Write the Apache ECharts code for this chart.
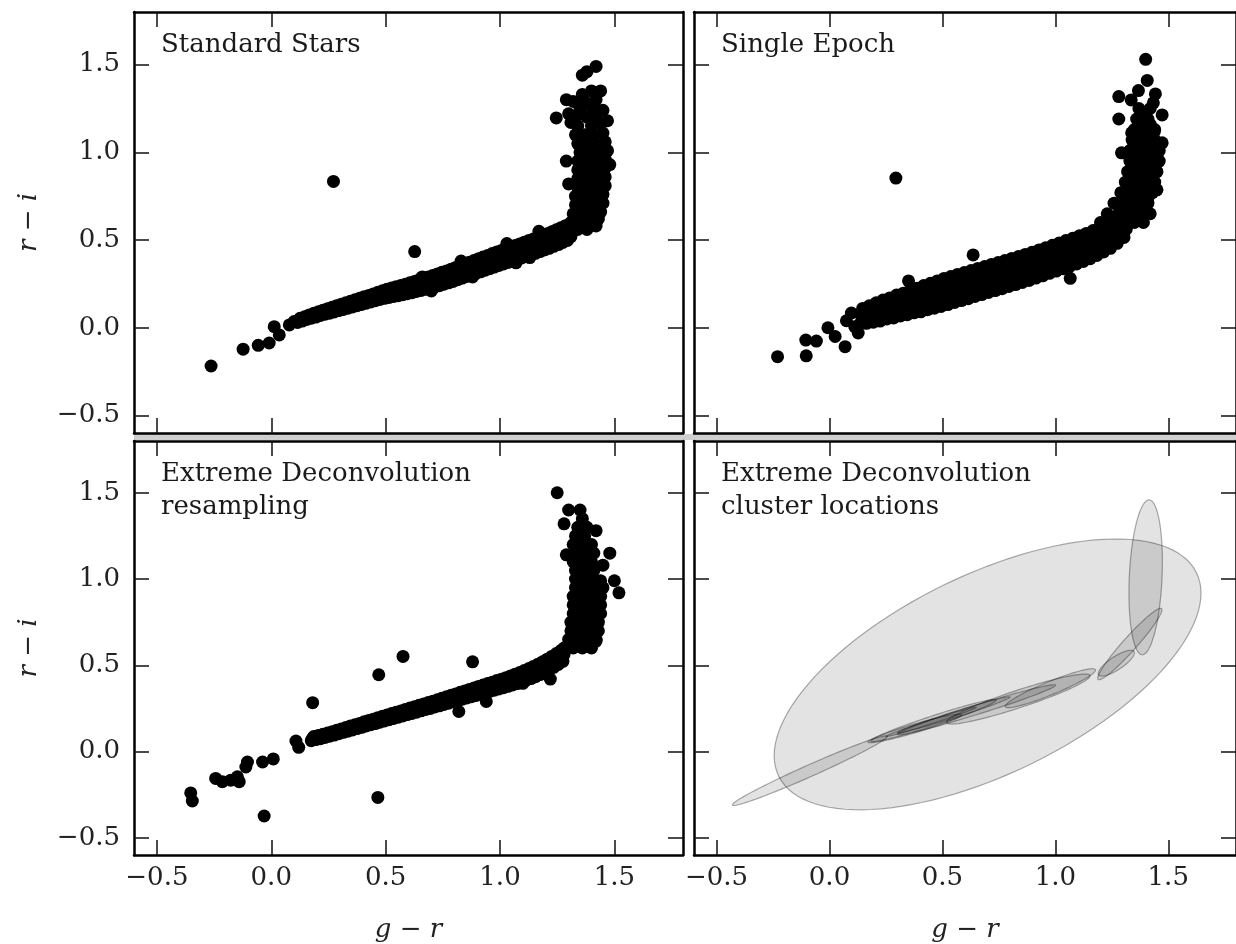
<!DOCTYPE html>
<html>
<head>
<meta charset="utf-8">
<script src="https://cdn.jsdelivr.net/npm/echarts@6/dist/echarts.min.js"></script>
<style>html,body{margin:0;padding:0;background:#fff}#chart{width:1236px;height:944px}</style>
</head>
<body>
<div id="chart"></div>
<script>
// ---------- data ----------
const tickValues = [-0.5, 0.0, 0.5, 1.0, 1.5];
const axisRange = [-0.6, 1.8];
const panelTitles = ['Standard Stars', 'Single Epoch', 'Extreme Deconvolution\nresampling', 'Extreme Deconvolution\ncluster locations'];
const xName = 'g − r';
const yName = 'r − i';

// panel 1: standard stars (g-r, r-i)
const standardStars = [
[-0.263,-0.218],[-0.123,-0.122],[-0.057,-0.100],[-0.009,-0.087],[0.013,0.006],[0.035,-0.041],[0.079,0.016],[0.100,0.035],[0.272,0.834],[0.627,0.434],[1.246,1.196],
[0.115,0.030],[0.120,0.042],[0.126,0.054],[0.135,0.038],[0.140,0.050],[0.146,0.062],[0.155,0.047],[0.160,0.060],[0.166,0.073],[0.175,0.054],[0.180,0.068],[0.186,0.082],
[0.195,0.061],[0.200,0.076],[0.206,0.091],[0.215,0.070],[0.220,0.085],[0.226,0.100],[0.235,0.077],[0.240,0.093],[0.246,0.109],[0.255,0.083],[0.260,0.100],[0.266,0.117],
[0.275,0.090],[0.280,0.108],[0.286,0.126],[0.295,0.098],[0.300,0.116],[0.306,0.134],[0.315,0.104],[0.320,0.123],[0.326,0.142],[0.335,0.111],[0.340,0.131],[0.346,0.151],
[0.355,0.119],[0.360,0.139],[0.366,0.159],[0.375,0.126],[0.380,0.147],[0.386,0.168],[0.395,0.133],[0.400,0.155],[0.406,0.177],[0.415,0.140],[0.420,0.162],[0.426,0.184],
[0.435,0.147],[0.440,0.170],[0.446,0.193],[0.455,0.154],[0.460,0.178],[0.466,0.202],[0.475,0.161],[0.480,0.186],[0.486,0.211],[0.495,0.168],[0.500,0.194],[0.506,0.220],
[0.515,0.173],[0.520,0.200],[0.526,0.227],[0.535,0.178],[0.540,0.206],[0.546,0.234],[0.555,0.183],[0.560,0.212],[0.566,0.241],[0.575,0.188],[0.580,0.218],[0.586,0.248],
[0.595,0.194],[0.600,0.225],[0.606,0.256],[0.615,0.200],[0.620,0.232],[0.626,0.264],[0.635,0.207],[0.640,0.240],[0.646,0.273],[0.655,0.213],[0.660,0.247],[0.666,0.281],
[0.675,0.219],[0.680,0.254],[0.686,0.289],[0.695,0.226],[0.700,0.262],[0.706,0.298],[0.715,0.233],[0.720,0.270],[0.726,0.307],[0.735,0.240],[0.740,0.278],[0.746,0.316],
[0.755,0.248],[0.760,0.286],[0.766,0.324],[0.775,0.256],[0.780,0.295],[0.786,0.334],[0.795,0.264],[0.800,0.304],[0.806,0.344],[0.815,0.274],[0.820,0.314],[0.826,0.354],
[0.835,0.283],[0.840,0.323],[0.846,0.363],[0.855,0.292],[0.860,0.333],[0.866,0.374],[0.875,0.301],[0.880,0.342],[0.886,0.383],[0.895,0.310],[0.900,0.352],[0.906,0.394],
[0.915,0.319],[0.920,0.361],[0.926,0.403],[0.935,0.328],[0.940,0.370],[0.946,0.412],[0.955,0.337],[0.960,0.380],[0.966,0.423],[0.975,0.346],[0.980,0.389],[0.986,0.432],
[0.995,0.355],[1.000,0.398],[1.006,0.441],[1.015,0.364],[1.020,0.407],[1.026,0.450],[1.035,0.372],[1.040,0.416],[1.046,0.460],[1.055,0.381],[1.060,0.425],[1.066,0.469],
[1.075,0.390],[1.080,0.434],[1.086,0.478],[1.095,0.398],[1.100,0.443],[1.106,0.488],[1.115,0.407],[1.120,0.452],[1.126,0.497],[1.135,0.416],[1.140,0.461],[1.146,0.506],
[1.155,0.424],[1.160,0.470],[1.166,0.516],[1.175,0.434],[1.180,0.480],[1.186,0.526],[1.195,0.444],[1.200,0.490],[1.206,0.536],[1.215,0.453],[1.220,0.500],[1.226,0.547],
[1.235,0.464],[1.240,0.511],[1.246,0.558],[1.255,0.474],[1.260,0.522],[1.266,0.570],[1.275,0.486],[1.280,0.534],[1.286,0.582],[1.295,0.498],[1.300,0.546],[1.306,0.594],
[0.66,0.29],[0.70,0.21],[0.83,0.38],[0.88,0.29],[1.03,0.48],[1.07,0.37],[1.17,0.55],[1.13,0.40],
[1.30,0.56],[1.34,0.56],[1.38,0.56],[1.42,0.58],[1.31,0.60],[1.35,0.60],[1.39,0.60],[1.43,0.62],[1.32,0.65],[1.36,0.65],[1.40,0.65],[1.44,0.66],
[1.33,0.70],[1.37,0.70],[1.41,0.70],[1.45,0.71],[1.33,0.75],[1.37,0.75],[1.41,0.75],[1.45,0.76],[1.34,0.80],[1.38,0.80],[1.42,0.80],[1.46,0.81],
[1.34,0.85],[1.38,0.85],[1.42,0.85],[1.46,0.86],[1.34,0.90],[1.38,0.90],[1.42,0.90],[1.46,0.91],[1.34,0.95],[1.38,0.95],[1.42,0.95],[1.46,0.96],
[1.35,1.00],[1.39,1.00],[1.43,1.00],[1.47,1.01],[1.34,1.05],[1.38,1.05],[1.42,1.05],[1.46,1.06],[1.33,1.10],[1.37,1.10],[1.41,1.10],[1.45,1.11],
[1.34,1.15],[1.40,1.15],[1.44,1.16],[1.33,1.20],[1.38,1.20],[1.42,1.21],[1.35,1.25],[1.41,1.25],[1.32,1.29],[1.37,1.29],[1.42,1.30],
[1.40,1.35],[1.36,1.44],[1.38,1.46],[1.42,1.49],[1.29,1.30],[1.31,0.52],
[1.30,1.22],[1.45,1.24],[1.39,1.27],[1.47,1.18],[1.36,1.33],[1.44,1.35],[1.31,1.17],[1.29,0.95],[1.48,0.93],[1.30,0.82]
];

// panel 2: single epoch
const singleEpoch = [
[-0.23,-0.165],[-0.103,-0.16],[-0.105,-0.07],[-0.058,-0.076],[-0.007,0.0],[0.025,-0.05],[0.069,-0.108],[0.075,0.04],[0.097,0.084],[0.127,-0.03],[0.112,0.006],[0.294,0.853],[0.636,0.415],[1.066,0.282],[0.35,0.267],
[0.134,0.020],[0.144,0.050],[0.138,0.080],[0.147,0.110],[0.164,0.025],[0.174,0.058],[0.168,0.092],[0.177,0.125],
[0.194,0.032],[0.204,0.069],[0.198,0.105],[0.207,0.142],[0.224,0.038],[0.234,0.078],[0.228,0.118],[0.237,0.158],
[0.254,0.050],[0.264,0.090],[0.258,0.130],[0.267,0.170],[0.284,0.056],[0.294,0.099],[0.288,0.143],[0.297,0.186],
[0.314,0.067],[0.324,0.110],[0.318,0.154],[0.327,0.197],[0.344,0.074],[0.354,0.121],[0.348,0.167],[0.357,0.214],
[0.374,0.085],[0.384,0.132],[0.378,0.178],[0.387,0.225],[0.404,0.091],[0.414,0.141],[0.408,0.191],[0.417,0.241],
[0.434,0.103],[0.444,0.153],[0.438,0.203],[0.447,0.253],[0.464,0.111],[0.474,0.163],[0.468,0.215],[0.477,0.267],
[0.494,0.121],[0.504,0.174],[0.498,0.228],[0.507,0.281],[0.524,0.132],[0.534,0.185],[0.528,0.239],[0.537,0.292],
[0.554,0.144],[0.564,0.197],[0.558,0.251],[0.567,0.304],[0.584,0.155],[0.594,0.208],[0.588,0.262],[0.597,0.315],
[0.614,0.166],[0.624,0.219],[0.618,0.273],[0.627,0.326],[0.644,0.178],[0.654,0.231],[0.648,0.285],[0.657,0.338],
[0.674,0.189],[0.684,0.242],[0.678,0.296],[0.687,0.349],[0.704,0.201],[0.714,0.254],[0.708,0.308],[0.717,0.361],
[0.734,0.212],[0.744,0.265],[0.738,0.319],[0.747,0.372],[0.764,0.223],[0.774,0.276],[0.768,0.330],[0.777,0.383],
[0.794,0.235],[0.804,0.288],[0.798,0.342],[0.807,0.395],[0.824,0.246],[0.834,0.299],[0.828,0.353],[0.837,0.406],
[0.854,0.258],[0.864,0.311],[0.858,0.365],[0.867,0.418],[0.884,0.270],[0.894,0.323],[0.888,0.377],[0.897,0.430],
[0.914,0.283],[0.924,0.336],[0.918,0.390],[0.927,0.443],[0.944,0.296],[0.954,0.349],[0.948,0.403],[0.957,0.456],
[0.974,0.310],[0.984,0.363],[0.978,0.417],[0.987,0.470],[1.004,0.323],[1.014,0.376],[1.008,0.430],[1.017,0.483],
[1.034,0.337],[1.044,0.390],[1.038,0.444],[1.047,0.497],[1.064,0.350],[1.074,0.403],[1.068,0.457],[1.077,0.510],
[1.094,0.364],[1.104,0.417],[1.098,0.471],[1.107,0.524],[1.124,0.378],[1.134,0.431],[1.128,0.485],[1.137,0.538],
[1.154,0.394],[1.164,0.447],[1.158,0.501],[1.167,0.554],[1.184,0.412],[1.194,0.465],[1.188,0.519],[1.197,0.572],
[1.214,0.432],[1.224,0.485],[1.218,0.539],[1.227,0.592],[1.244,0.453],[1.254,0.506],[1.248,0.560],[1.257,0.613],
[1.274,0.481],[1.284,0.531],[1.278,0.581],[1.287,0.631],[1.304,0.515],[1.314,0.562],[1.308,0.608],[1.317,0.655],
[1.20,0.60],[1.25,0.60],[1.30,0.60],[1.35,0.60],[1.39,0.60],[1.23,0.65],[1.28,0.65],[1.33,0.65],[1.38,0.65],[1.42,0.65],
[1.26,0.71],[1.31,0.71],[1.36,0.71],[1.41,0.71],[1.29,0.77],[1.34,0.77],[1.39,0.77],[1.43,0.77],
[1.31,0.83],[1.35,0.83],[1.40,0.83],[1.44,0.83],[1.32,0.89],[1.36,0.89],[1.41,0.89],[1.45,0.89],
[1.33,0.95],[1.37,0.95],[1.42,0.95],[1.46,0.95],[1.33,1.01],[1.38,1.01],[1.43,1.01],[1.46,1.01],
[1.34,1.07],[1.39,1.07],[1.44,1.07],[1.35,1.13],[1.40,1.13],[1.44,1.13],[1.36,1.19],[1.41,1.19],[1.37,1.25],[1.42,1.25],
[1.27,0.63],[1.32,0.63],[1.37,0.63],[1.29,0.68],[1.34,0.68],[1.39,0.68],[1.31,0.74],[1.36,0.74],[1.41,0.74],
[1.33,0.80],[1.37,0.80],[1.42,0.80],[1.34,0.86],[1.38,0.86],[1.43,0.86],[1.35,0.92],[1.39,0.92],[1.44,0.92],
[1.35,0.98],[1.40,0.98],[1.44,0.98],[1.36,1.04],[1.41,1.04],[1.45,1.04],[1.37,1.10],[1.42,1.10],[1.38,1.16],[1.42,1.16],[1.39,1.22],
[1.368,1.352],[1.443,1.333],[1.281,1.318],[1.336,1.299],[1.434,1.282],[1.281,1.190],[1.473,1.213],[1.381,1.204],[1.338,1.111],[1.438,1.118],[1.293,0.997],[1.473,1.054],[1.45,0.97],[1.45,0.786],[1.407,1.41],[1.40,1.53]
];

// panel 3: XD resampled
const xdResampled = [
[-0.352,-0.24],[-0.345,-0.287],[-0.243,-0.156],[-0.214,-0.175],[-0.177,-0.166],[-0.14,-0.175],[-0.148,-0.147],[-0.111,-0.09],[-0.104,-0.061],[-0.038,-0.061],[0.009,-0.043],[-0.031,-0.374],[0.108,0.061],[0.12,0.024],[0.181,0.283],[0.47,0.445],[0.576,0.551],[0.466,-0.266],[0.88,0.52],
[0.175,0.063],[0.180,0.075],[0.186,0.087],[0.195,0.069],[0.200,0.081],[0.206,0.093],[0.215,0.074],[0.220,0.087],[0.226,0.100],[0.235,0.081],[0.240,0.094],[0.246,0.107],
[0.255,0.089],[0.260,0.102],[0.266,0.115],[0.275,0.095],[0.280,0.109],[0.286,0.123],[0.295,0.103],[0.300,0.117],[0.306,0.131],[0.315,0.111],[0.320,0.125],[0.326,0.139],
[0.335,0.118],[0.340,0.133],[0.346,0.148],[0.355,0.125],[0.360,0.140],[0.366,0.155],[0.375,0.133],[0.380,0.148],[0.386,0.163],[0.395,0.140],[0.400,0.156],[0.406,0.172],
[0.415,0.148],[0.420,0.164],[0.426,0.180],[0.435,0.155],[0.440,0.171],[0.446,0.187],[0.455,0.162],[0.460,0.179],[0.466,0.196],[0.475,0.170],[0.480,0.187],[0.486,0.204],
[0.495,0.177],[0.500,0.194],[0.506,0.211],[0.515,0.184],[0.520,0.202],[0.526,0.220],[0.535,0.192],[0.540,0.210],[0.546,0.228],[0.555,0.199],[0.560,0.217],[0.566,0.235],
[0.575,0.206],[0.580,0.225],[0.586,0.244],[0.595,0.214],[0.600,0.233],[0.606,0.252],[0.615,0.221],[0.620,0.240],[0.626,0.259],[0.635,0.228],[0.640,0.248],[0.646,0.268],
[0.655,0.236],[0.660,0.256],[0.666,0.276],[0.675,0.244],[0.680,0.264],[0.686,0.284],[0.695,0.250],[0.700,0.271],[0.706,0.292],[0.715,0.258],[0.720,0.279],[0.726,0.300],
[0.735,0.265],[0.740,0.287],[0.746,0.309],[0.755,0.273],[0.760,0.295],[0.766,0.317],[0.775,0.280],[0.780,0.303],[0.786,0.326],[0.795,0.288],[0.800,0.311],[0.806,0.334],
[0.815,0.295],[0.820,0.319],[0.826,0.343],[0.835,0.303],[0.840,0.327],[0.846,0.351],[0.855,0.310],[0.860,0.335],[0.866,0.360],[0.875,0.318],[0.880,0.343],[0.886,0.368],
[0.895,0.325],[0.900,0.351],[0.906,0.377],[0.915,0.333],[0.920,0.359],[0.926,0.385],[0.935,0.340],[0.940,0.367],[0.946,0.394],[0.955,0.348],[0.960,0.375],[0.966,0.402],
[0.975,0.355],[0.980,0.383],[0.986,0.411],[0.995,0.363],[1.000,0.391],[1.006,0.419],[1.015,0.370],[1.020,0.399],[1.026,0.428],[1.035,0.378],[1.040,0.408],[1.046,0.438],
[1.055,0.386],[1.060,0.417],[1.066,0.448],[1.075,0.394],[1.080,0.426],[1.086,0.458],[1.095,0.403],[1.100,0.436],[1.106,0.469],[1.115,0.413],[1.120,0.447],[1.126,0.481],
[1.135,0.423],[1.140,0.458],[1.146,0.493],[1.155,0.434],[1.160,0.470],[1.166,0.506],[1.175,0.446],[1.180,0.483],[1.186,0.520],[1.195,0.459],[1.200,0.497],[1.206,0.535],
[1.215,0.473],[1.220,0.512],[1.226,0.551],[1.235,0.488],[1.240,0.528],[1.246,0.568],[1.255,0.505],[1.260,0.545],[1.266,0.585],[1.275,0.523],[1.280,0.563],[1.286,0.603],
[0.82,0.232],[0.94,0.290],[1.22,0.420],[1.10,0.395],
[1.28,0.60],[1.32,0.60],[1.36,0.60],[1.40,0.60],[1.30,0.65],[1.34,0.65],[1.38,0.65],[1.42,0.65],[1.31,0.70],[1.35,0.70],[1.39,0.70],[1.43,0.70],
[1.31,0.75],[1.35,0.75],[1.39,0.75],[1.43,0.75],[1.32,0.80],[1.36,0.80],[1.40,0.80],[1.44,0.80],[1.32,0.85],[1.36,0.85],[1.40,0.85],[1.44,0.85],
[1.32,0.90],[1.36,0.90],[1.40,0.90],[1.44,0.90],[1.33,0.95],[1.37,0.95],[1.41,0.95],[1.45,0.95],[1.33,1.00],[1.37,1.00],[1.41,1.00],
[1.33,1.05],[1.37,1.05],[1.41,1.05],[1.32,1.10],[1.36,1.10],[1.40,1.10],[1.33,1.15],[1.37,1.15],[1.41,1.15],[1.32,1.20],[1.36,1.20],[1.40,1.20],
[1.33,1.25],[1.37,1.25],[1.34,1.30],[1.38,1.30],[1.36,1.35],[1.35,1.40],
[1.28,1.32],[1.30,1.40],[1.42,1.28],[1.29,1.14],[1.45,1.08],
[1.25,1.50],[1.48,1.15],[1.44,0.99],[1.50,0.99],[1.52,0.92],[1.42,0.64]
];

// XD cluster ellipses: centre, half-extent in x and y, correlation
const ellCx  = [0.700, 1.400, -0.087, 0.461, 0.651, 0.836, 0.978, 0.378, 1.330, 1.270, 0.550, 0.450];
const ellCy  = [0.447, 1.010, -0.111, 0.179, 0.242, 0.304, 0.367, 0.134, 0.623, 0.512, 0.212, 0.172];
const ellHx  = [0.945, 0.074, 0.343, 0.277, 0.350, 0.318, 0.200, 0.208, 0.142, 0.080, 0.250, 0.200];
const ellHy  = [0.785, 0.449, 0.202, 0.122, 0.145, 0.145, 0.113, 0.083, 0.207, 0.075, 0.105, 0.085];
const ellRho = [0.600, 0.200, 0.983, 0.969, 0.980, 0.930, 0.930, 0.950, 0.959, 0.800, 0.985, 0.990];

// ---------- chart ----------
const FONT = 'DejaVu Serif';
const TXT = '#222';
const FS = 26;
const grids = [
  {left: 134, top: 12, width: 549, height: 421},
  {left: 694, top: 12, width: 549, height: 421},
  {left: 134, top: 441, width: 549, height: 422},
  {left: 694, top: 441, width: 549, height: 422}
];
const fmt = v => (v < 0 ? '\u2212' : '') + Math.abs(v).toFixed(1);

const xAxes = [], yAxes = [];
grids.forEach((g, i) => {
  const bottomRow = i >= 2, leftCol = i % 2 === 0;
  const common = {
    type: 'value', gridIndex: i, min: axisRange[0], max: axisRange[1],
    axisLine: {show: true, onZero: false, lineStyle: {color: '#000', width: 2.5}},
    axisTick: {show: true, inside: true, length: 15, customValues: tickValues, lineStyle: {color: '#111', width: 1.5}},
    splitLine: {show: false}
  };
  xAxes.push(Object.assign({}, common, {
    position: 'bottom',
    axisLabel: {show: bottomRow, customValues: tickValues, formatter: fmt, margin: 10, fontFamily: FONT, fontSize: FS, color: TXT},
    name: bottomRow ? xName : '', nameLocation: 'middle', nameGap: 62,
    nameTextStyle: {fontFamily: FONT, fontSize: FS, fontStyle: 'italic', color: TXT}
  }));
  xAxes.push(Object.assign({}, common, {position: 'top', axisLabel: {show: false}}));
  yAxes.push(Object.assign({}, common, {
    position: 'left',
    axisLabel: {show: leftCol, customValues: tickValues, formatter: fmt, margin: 14, fontFamily: FONT, fontSize: FS, color: TXT},
    name: leftCol ? yName : '', nameLocation: 'middle', nameGap: 92, nameRotate: 90,
    nameTextStyle: {fontFamily: FONT, fontSize: FS, fontStyle: 'italic', color: TXT}
  }));
  yAxes.push(Object.assign({}, common, {position: 'right', axisLabel: {show: false}}));
});

const scatterStyle = {symbol: 'circle', symbolSize: 13, itemStyle: {color: '#000', opacity: 1}, silent: true, animation: false, large: false};
const series = [
  Object.assign({type: 'scatter', xAxisIndex: 0, yAxisIndex: 0, data: standardStars}, scatterStyle),
  Object.assign({type: 'scatter', xAxisIndex: 2, yAxisIndex: 2, data: singleEpoch}, scatterStyle),
  Object.assign({type: 'scatter', xAxisIndex: 4, yAxisIndex: 4, data: xdResampled}, scatterStyle),
  {
    type: 'custom', xAxisIndex: 6, yAxisIndex: 6, silent: true, animation: false, clip: true,
    encode: {x: 0, y: 1},
    data: ellCx.map((c, k) => [c, ellCy[k], ellHx[k], ellHy[k], ellRho[k]]),
    renderItem: function (params, api) {
      const cx = api.value(0), cy = api.value(1), hx = api.value(2), hy = api.value(3), rho = api.value(4);
      const s = Math.sqrt(1 - rho * rho);
      const pts = [];
      for (let k = 0; k < 120; k++) {
        const t = 2 * Math.PI * k / 120;
        pts.push(api.coord([cx + hx * Math.cos(t), cy + hy * (rho * Math.cos(t) + s * Math.sin(t))]));
      }
      return {type: 'polygon', shape: {points: pts},
        style: {fill: 'rgba(0,0,0,0.11)', stroke: 'rgba(0,0,0,0.32)', lineWidth: 1.2}};
    }
  }
];

const titles = panelTitles.map((t, i) => ({
  text: t, left: grids[i].left + 22, top: grids[i].top + 12,
  textStyle: {fontFamily: FONT, fontSize: FS, fontWeight: 'normal', color: '#1a1a1a', lineHeight: 33}
}));

const chart = echarts.init(document.getElementById('chart'), null, {renderer: 'canvas'});
chart.setOption({
  backgroundColor: '#fff',
  animation: false,
  title: titles,
  grid: grids,
  xAxis: xAxes,
  yAxis: yAxes,
  series: series,
  graphic: [
    {type: 'rect', left: 134, top: 434, shape: {width: 1102, height: 6}, style: {fill: '#cfcfcf'}, z: -1, silent: true}
  ]
});
</script>
</body>
</html>
